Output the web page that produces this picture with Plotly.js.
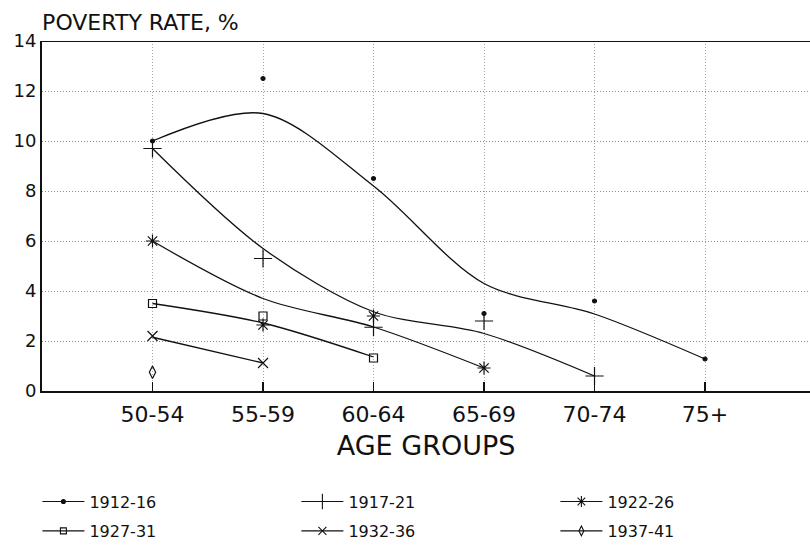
<!DOCTYPE html>
<html>
<head>
<meta charset="utf-8">
<script src="https://cdn.plot.ly/plotly-3.0.1.min.js"></script>
<style>html,body{margin:0;padding:0;background:#fff;}#chart{width:810px;height:545px;}</style>
</head>
<body>
<div id="chart"></div>
<script>
// Category axis
const ageGroups = ["50-54", "55-59", "60-64", "65-69", "70-74", "75+"];
const ageIndex = [1, 2, 3, 4, 5, 6];

// Observed poverty rates (markers), by cohort
const obs1912 = [10.0, 12.5, 8.5, 3.1, 3.6, 1.28];
const obs1917 = [9.7, 5.3, 2.55, 2.8, 0.6];
const obs1922 = [6.0, 2.64, 3.0, 0.92];
const obs1927 = [3.5, 3.0, 1.32];
const obs1932 = [2.2, 1.12];
const obs1937 = [0.75];

// Fitted (smoothed) curve values read at each age group
const fit1912 = [10.0, 11.1, 8.2, 4.3, 3.08, 1.28];
const fit1917 = [9.7, 5.7, 3.17, 2.3, 0.6];
const fit1922 = [6.0, 3.7, 2.56, 0.92];
const fit1927 = [3.5, 2.72, 1.36];
const fit1932 = [2.15, 1.12];

const cohorts = ["1912-16", "1917-21", "1922-26", "1927-31", "1932-36", "1937-41"];

const INK = "#111111";
const series = [
  {name: cohorts[0], obs: obs1912, fit: fit1912, sym: "circle", size: 4, legend: "legend"},
  {name: cohorts[1], obs: obs1917, fit: fit1917, sym: "cross-thin-open", size: 13, legend: "legend"},
  {name: cohorts[2], obs: obs1922, fit: fit1922, sym: "asterisk-open", size: 11, legend: "legend"},
  {name: cohorts[3], obs: obs1927, fit: fit1927, sym: "square-open", size: 8, legend: "legend2"},
  {name: cohorts[4], obs: obs1932, fit: fit1932, sym: "x-thin-open", size: 10, legend: "legend2"},
  {name: cohorts[5], obs: obs1937, fit: null, sym: "diamond-tall-open", size: 9, legend: "legend2"}
];

const traces = [];
series.forEach(s => {
  if (s.fit) {
    traces.push({
      x: ageIndex.slice(0, s.fit.length), y: s.fit, type: "scatter", mode: "lines",
      line: {color: INK, width: 1.3, shape: "spline", smoothing: 0.9},
      showlegend: false, hoverinfo: "skip", legendgroup: s.name
    });
  }
  traces.push({
    x: ageIndex.slice(0, s.obs.length), y: s.obs, type: "scatter", mode: "markers",
    marker: {symbol: s.sym, size: s.size, color: INK, line: {color: INK, width: 1.2}},
    showlegend: false, legendgroup: s.name, name: s.name
  });
  // legend entry (line + marker symbol)
  traces.push({
    x: [null], y: [null], type: "scatter", mode: "lines+markers", name: s.name,
    legend: s.legend, legendgroup: s.name,
    line: {color: INK, width: 1.2},
    marker: {symbol: s.sym, size: Math.max(4, s.size - 2), color: INK, line: {color: INK, width: 1.1}}
  });
});

const FONT = "DejaVu Sans, Verdana, sans-serif";
const legendCommon = {
  orientation: "h", x: -0.006, xanchor: "left", yanchor: "middle",
  entrywidth: 202, entrywidthmode: "pixels", itemwidth: 42,
  font: {family: FONT, size: 16, color: INK},
  bgcolor: "rgba(0,0,0,0)", traceorder: "normal"
};

const layout = {
  width: 810, height: 545,
  margin: {l: 42, r: 0, t: 41, b: 154, autoexpand: false},
  paper_bgcolor: "#fff", plot_bgcolor: "#fff",
  font: {family: FONT, color: INK},
  title: {text: "POVERTY RATE, %", x: 0.052, xanchor: "left", xref: "container",
          y: 0.96, yanchor: "middle", yref: "container",
          font: {family: FONT, size: 22, color: INK}},
  xaxis: {
    range: [0, 6.95], tickmode: "array", tickvals: ageIndex, ticktext: ageGroups,
    automargin: false,
    showgrid: true, gridcolor: "#a8a8a8", griddash: "1px,2px", gridwidth: 1,
    zeroline: false, showline: true, linecolor: INK, linewidth: 2,
    ticks: "inside", ticklen: 9, tickcolor: INK, tickwidth: 1.2,
    ticklabelstandoff: 3,
    tickfont: {family: FONT, size: 22, color: INK},
    title: {text: "AGE GROUPS", font: {family: FONT, size: 27, color: INK}, standoff: 10},
    fixedrange: true
  },
  yaxis: {
    range: [0, 14], tickmode: "array", tickvals: [0, 2, 4, 6, 8, 10, 12, 14],
    automargin: false,
    showgrid: true, gridcolor: "#8a8a8a", griddash: "1px,2px", gridwidth: 1,
    zeroline: false, showline: true, linecolor: INK, linewidth: 2,
    ticks: "", tickfont: {family: FONT, size: 18, color: INK},
    fixedrange: true
  },
  shapes: [{type: "line", xref: "paper", yref: "y", x0: 0, x1: 1, y0: 14, y1: 14,
            line: {color: INK, width: 2}}],
  legend: Object.assign({}, legendCommon, {y: -0.316}),
  legend2: Object.assign({}, legendCommon, {y: -0.40}),
  showlegend: true
};

Plotly.newPlot("chart", traces, layout, {displayModeBar: false, staticPlot: true});
</script>
</body>
</html>
